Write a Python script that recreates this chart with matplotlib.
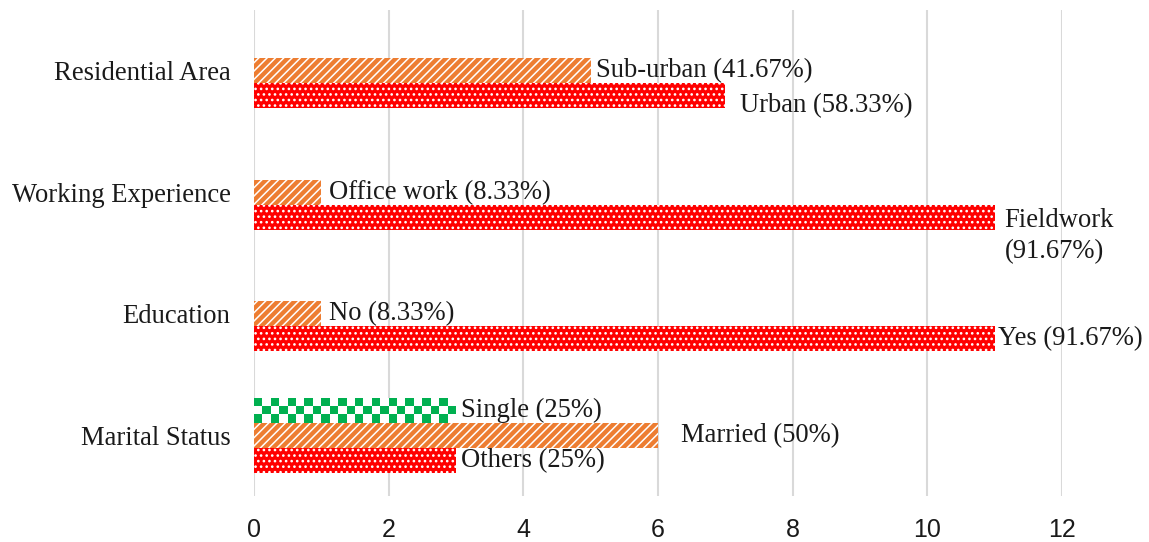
import numpy as np
import matplotlib
matplotlib.use("Agg")
import matplotlib.pyplot as plt
from matplotlib.colors import ListedColormap

# ---- data ----
categories = ["Marital Status", "Education", "Working Experience", "Residential Area"]
series1_values = [3, 11, 11, 7]          # red dotted
series1_labels = ["Others (25%)", "Yes (91.67%)", "Fieldwork\n(91.67%)", "Urban (58.33%)"]
series2_values = [6, 1, 1, 5]            # orange diagonal
series2_labels = ["Married (50%)", "No (8.33%)", "Office work (8.33%)", "Sub-urban (41.67%)"]
series3_values = [3, np.nan, np.nan, np.nan]  # green checker
series3_labels = ["Single (25%)", "", "", ""]
x_ticks = [0, 2, 4, 6, 8, 10, 12]

# ---- styling ----
plt.rcParams["hatch.linewidth"] = 1.1
serif = ["Liberation Serif", "DejaVu Serif"]
tick_font = ["Liberation Sans Narrow", "Liberation Sans", "DejaVu Sans"]
RED, ORANGE, GREEN = "#FF0000", "#ED7D31", "#00B050"
FS = 19.2

fig = plt.figure(figsize=(11.49, 5.42), dpi=100)
ax = fig.add_axes([254 / 1149, 1 - 496 / 542, (1062 - 254) / 1149, (496 - 10) / 542])

y = np.arange(len(categories))
h = 25 / 121.33

ax.set_xlim(0, 12)
ax.set_ylim(-0.5, 3.5)

b1 = ax.barh(y - h, series1_values, height=h, color=RED, edgecolor="white",
             linewidth=0, hatch="...", zorder=3)
b2 = ax.barh(y, series2_values, height=h, color=ORANGE, edgecolor="white",
             linewidth=0, hatch="////", zorder=3)
b3 = ax.barh(y + h, series3_values, height=h, color=GREEN, linewidth=0, zorder=3)

# checkerboard texture for the green bars (clipped to each bar)
cmap = ListedColormap(["white", GREEN])
for p in b3.patches:
    w = p.get_width()
    if not np.isfinite(w) or w <= 0:
        continue
    x0, y0 = p.get_x(), p.get_y()
    ncol = int(round(w * 8))
    nrow = 3
    checker = (np.add.outer(np.arange(nrow), np.arange(ncol)) % 2 == 0).astype(float)
    im = ax.imshow(checker, extent=(x0, x0 + w, y0, y0 + p.get_height()),
                   cmap=cmap, vmin=0, vmax=1, interpolation="nearest",
                   aspect="auto", zorder=3.5, origin="upper")
    im.set_clip_path(p)

ax.set_xlim(0, 12)
ax.set_ylim(-0.5, 3.5)
ax.set_aspect("auto")

# data labels: (dx, dy) offsets in pixels
off1 = [(5, 0), (3, 0), (10, -19), (15, -10)]
off2 = [(23, 0), (8, 0), (8, 0), (5, 0)]
off3 = [(5, 0), (5, 0), (5, 0), (5, 0)]

def put_labels(bars, labels, offs):
    for p, lab, (dx, dy) in zip(bars.patches, labels, offs):
        if not lab:
            continue
        yc = p.get_y() + p.get_height() / 2
        ax.annotate(lab, xy=(p.get_width(), yc), xytext=(dx, dy),
                    textcoords="offset pixels", ha="left", va="center",
                    fontsize=FS, family=serif, color="#1a1a1a",
                    linespacing=1.35, annotation_clip=False, zorder=5)

put_labels(b1, series1_labels, off1)
put_labels(b2, series2_labels, off2)
put_labels(b3, series3_labels, off3)

ax.set_yticks(y)
ax.set_yticklabels(categories, family=serif, fontsize=FS, color="#1a1a1a")
ax.set_xticks(x_ticks)
ax.set_xticklabels([str(t) for t in x_ticks], family=tick_font, fontsize=18, color="#1a1a1a")
ax.tick_params(axis="y", length=0, pad=17)
ax.tick_params(axis="x", length=0, pad=16)

for s in ax.spines.values():
    s.set_visible(False)
ax.grid(axis="x", color="#D9D9D9", linewidth=1.5, zorder=0)
ax.set_axisbelow(True)

fig.savefig("out.png", dpi=100)
